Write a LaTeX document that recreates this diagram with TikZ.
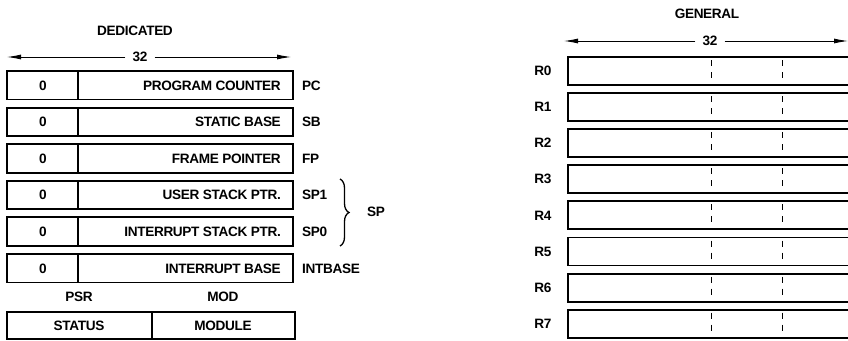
\documentclass[tikz,border=0pt]{standalone}
\usepackage{fontspec}
\setmainfont{Liberation Sans}[LetterSpace=-2.5]
\usetikzlibrary{arrows.meta,decorations.pathreplacing}
\begin{document}
\begin{tikzpicture}[x=1pt,y=-1pt,
  every node/.style={font=\fontsize{13.6}{15}\selectfont\bfseries, inner sep=0pt},
  regline/.style={line width=1.9pt, line join=miter},
  divline/.style={line width=1.6pt},
  byteline/.style={line width=0.9pt, dash pattern=on 6pt off 6pt},
  dimline/.style={line width=0.9pt, -{Latex[length=14pt,width=5pt]}},
  widthlabel/.style={inner xsep=7pt},
  bracestyle/.style={line width=1.3pt, decorate, decoration={brace, amplitude=9pt}}]
\useasboundingbox (0,0) rectangle (848,340);

% ---------- DEDICATED ----------
\node (ded) at (135,31) {DEDICATED};
\node[widthlabel] (w32a) at (140,57) {32};
\coordinate (dla) at (7,57);
\coordinate (dra) at (291,57);
\draw[dimline] (w32a.west) -- (dla);
\draw[dimline] (w32a.east) -- (dra);

\foreach \i/\txt/\lab in {0/PROGRAM COUNTER/PC, 1/STATIC BASE/SB, 2/FRAME POINTER/FP,
  3/USER STACK PTR./SP1, 4/INTERRUPT STACK PTR./SP0, 5/INTERRUPT BASE/INTBASE}{
  \pgfmathsetmacro\t{71+36.6*\i}
  \draw[regline] (7,\t) rectangle (293,\t+28.5);
  \draw[divline] (78,\t) -- (78,\t+28.5);
  \node (z\i) at (43,\t+14.5) {0};
  \node[anchor=east] (n\i) at (281,\t+14.5) {\txt};
  \node[anchor=west] (l\i) at (302,\t+14.5) {\lab};
}

\coordinate (bt) at (340,179);
\coordinate (bb) at (340,246);
\draw[bracestyle] (bt) -- (bb);
\node[anchor=west] (sp) at (367,212) {SP};

\node (psr) at (79,297) {PSR};
\node (mod) at (223,297) {MOD};
\draw[regline] (7,312) rectangle (295,339);
\draw[divline] (152,312) -- (152,339);
\node (status) at (79,325.5) {STATUS};
\node (module) at (223,325.5) {MODULE};

% ---------- GENERAL ----------
\node (gen) at (707,14) {GENERAL};
\node[widthlabel] (w32b) at (710,41) {32};
\coordinate (dlb) at (564,41);
\coordinate (drb) at (848,41);
\draw[dimline] (w32b.west) -- (dlb);
\draw[dimline] (w32b.east) -- (drb);

\foreach \i in {0,...,7}{
  \pgfmathsetmacro\t{57+36.1*\i}
  \draw[regline] (848,\t) -- (568,\t) -- (568,\t+28) -- (848,\t+28);
  \draw[byteline] (711,\t+3) -- (711,\t+26);
  \draw[byteline] (782,\t+3) -- (782,\t+26);
  \node (r\i) at (543,\t+14) {R\i};
}
\end{tikzpicture}
\end{document}
